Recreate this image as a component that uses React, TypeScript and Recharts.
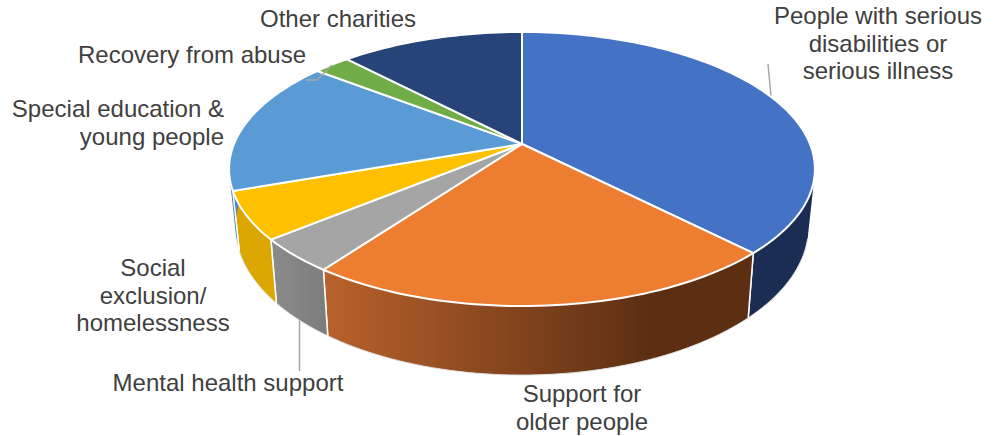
import { Pie, PieChart } from "recharts";

const categories = [
  "People with serious disabilities or serious illness",
  "Support for older people",
  "Mental health support",
  "Social exclusion/homelessness",
  "Special education & young people",
  "Recovery from abuse",
  "Other charities",
];
const shares = [37.7, 22.3, 4.0, 5.6, 15.9, 2.4, 12.1];
const topColors = ["#4472c4", "#ed7d31", "#a5a5a5", "#ffc000", "#5b9bd5", "#70ad47", "#264478"];
const wallColors = ["#1b2d52", "url(#olderWall)", "url(#mentalWall)", "#dba600", "#4a82bb", "#5a8c39", "#1a2f55"];

const rows = categories.map((name, i) => ({ name, share: shares[i] }));

// Perspective of the tilted disc: p is the foreshortening, the rest shape the two rims.
const W = 998;
const H = 436;
const CX = 522;
const CY = 144;
const R = 288;
const p = 0.1825;
const TILT_TOP = 0.46;
const TILT_BOTTOM = 0.497;
const SHRINK_BOTTOM = 0.978;
const DROP_BOTTOM = 56;
const RECOVERY = 5;

type Pt = [number, number];

const rad = (deg: number) => (deg * Math.PI) / 180;
const fmt = (pts: Pt[]) => pts.map(([x, y]) => `${x.toFixed(2)} ${y.toFixed(2)}`).join("L");

function rim(angle: number, cx: number, cy: number, r: number, lower: boolean): Pt {
  const u = Math.cos(rad(angle));
  const v = Math.sin(rad(angle));
  const d = 1 + p * v;
  if (lower) {
    return [cx + (SHRINK_BOTTOM * r * u) / d, cy + DROP_BOTTOM - (TILT_BOTTOM * r * v) / d];
  }
  return [cx + (r * u) / d, cy - (TILT_TOP * r * v) / d];
}

function arc(from: number, to: number, cx: number, cy: number, r: number, lower: boolean) {
  const steps = Math.max(2, Math.ceil(Math.abs(from - to) / 1.5));
  const pts: Pt[] = [];
  for (let i = 0; i <= steps; i++) {
    pts.push(rim(from + ((to - from) * i) / steps, cx, cy, r, lower));
  }
  return pts;
}

// Quads wound the same way, so overlaps near the sides stay filled in a single path.
function quadPath(quad: Pt[]) {
  let area = 0;
  quad.forEach(([x, y], i) => {
    const [nx, ny] = quad[(i + 1) % quad.length];
    area += x * ny - nx * y;
  });
  const ordered = area < 0 ? [...quad].reverse() : quad;
  return `M${fmt(ordered)}Z`;
}

function TopSlice(props: any) {
  const { cx, cy, outerRadius, startAngle, endAngle, index } = props;
  const edge = arc(startAngle, endAngle, cx, cy, outerRadius, false);
  return (
    <g>
      <path
        d={`M${cx} ${cy}L${fmt(edge)}Z`}
        fill={topColors[index]}
        stroke="#fff"
        strokeWidth={2}
        strokeLinejoin="round"
      />
      {/* this leader crosses the slice, so it has to sit above the disc */}
      {index === RECOVERY && <path d="M306 80L317 80L332 65" stroke="#a6a6a6" strokeWidth={1.5} fill="none" />}
    </g>
  );
}

function WallSlice(props: any) {
  const { cx, cy, outerRadius, startAngle, endAngle, index } = props;
  const upper = arc(startAngle, endAngle, cx, cy, outerRadius, false);
  const lower = arc(startAngle, endAngle, cx, cy, outerRadius, true);
  const body = upper
    .slice(1)
    .map((pt, i) => quadPath([upper[i], pt, lower[i + 1], lower[i]]))
    .join("");
  const last = upper.length - 1;
  // only the front of the lower rim gets the pale outline
  const from = Math.min(startAngle, -15);
  const to = Math.max(endAngle, -165);
  return (
    <g>
      <path d={body} fill={wallColors[index]} />
      {from > to && (
        <path d={`M${fmt(arc(from, to, cx, cy, outerRadius, true))}`} fill="none" stroke="#e2e2e2" strokeWidth={1} />
      )}
      <path d={`M${fmt([upper[0], lower[0]])}M${fmt([upper[last], lower[last]])}`} fill="none" stroke="#fff" strokeWidth={1.5} />
    </g>
  );
}

const textStyle = { fontFamily: "Liberation Sans, Arial, sans-serif", fontSize: 24, fill: "#404040" };

function Caption({ x, y, lines, anchor = "middle" }: { x: number; y: number; lines: string[]; anchor?: "middle" | "end" }) {
  return (
    <text x={x} y={y} textAnchor={anchor} style={textStyle}>
      {lines.map((line, i) => (
        <tspan key={line} x={x} dy={i === 0 ? 0 : 27.5}>
          {line}
        </tspan>
      ))}
    </text>
  );
}

export default function App() {
  return (
    <div style={{ position: "absolute", left: 0, top: 0, width: W, height: H }}>
      <PieChart width={W} height={H} margin={{ top: 0, right: 0, bottom: 0, left: 0 }}>
        <defs>
          <linearGradient id="olderWall" gradientUnits="userSpaceOnUse" x1={323} y1={0} x2={650} y2={0}>
            <stop offset="0" stopColor="#b9622b" />
            <stop offset="1" stopColor="#5c2f13" />
          </linearGradient>
          <linearGradient id="mentalWall" gradientUnits="userSpaceOnUse" x1={272} y1={0} x2={328} y2={0}>
            <stop offset="0" stopColor="#8b8b8b" />
            <stop offset="1" stopColor="#7c7c7c" />
          </linearGradient>
        </defs>
        <Pie
          data={rows}
          dataKey="share"
          cx={CX}
          cy={CY}
          outerRadius={R}
          startAngle={90}
          endAngle={-270}
          stroke="none"
          isAnimationActive={false}
          shape={WallSlice}
        />
        <Pie
          data={rows}
          dataKey="share"
          cx={CX}
          cy={CY}
          outerRadius={R}
          startAngle={90}
          endAngle={-270}
          stroke="none"
          isAnimationActive={false}
          shape={TopSlice}
        />
        {/* leader lines that stay outside the disc */}
        <path d="M768 64L771 96" stroke="#a6a6a6" strokeWidth={1.5} fill="none" />
        <path d="M299.5 320L299.5 371" stroke="#a6a6a6" strokeWidth={1.5} fill="none" />
        <Caption x={338} y={27} lines={["Other charities"]} />
        <Caption x={192} y={63} lines={["Recovery from abuse"]} />
        <Caption x={224} y={117} anchor="end" lines={["Special education &", "young people"]} />
        <Caption x={153} y={276} lines={["Social", "exclusion/", "homelessness"]} />
        <Caption x={228} y={391} lines={["Mental health support"]} />
        <Caption x={582} y={402} lines={["Support for", "older people"]} />
        <Caption x={878} y={24} lines={["People with serious", "disabilities or", "serious illness"]} />
      </PieChart>
    </div>
  );
}
